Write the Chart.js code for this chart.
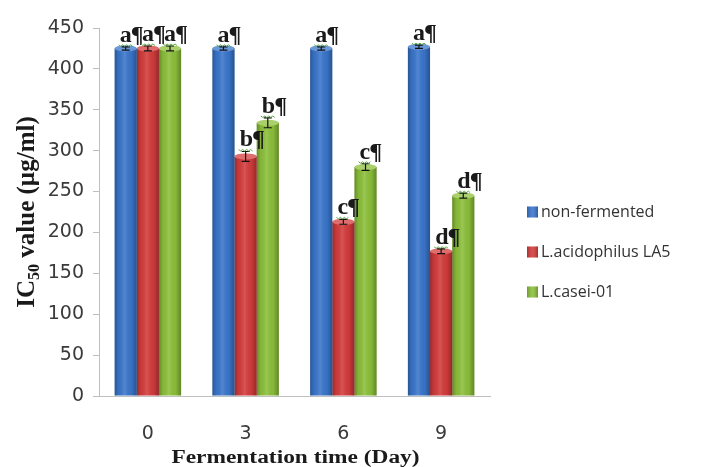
<!DOCTYPE html>
<html>
<head>
<meta charset="utf-8">
<script src="https://cdn.jsdelivr.net/npm/chart.js@4"></script>
<style>
  html, body { margin: 0; padding: 0; background: #fff; }
  #wrap { width: 706px; height: 467px; }
</style>
</head>
<body>
<div id="wrap"><canvas id="chart" width="706" height="467"></canvas></div>
<script>
const days = ["0", "3", "6", "9"];

const nonFermented = [425, 425, 425, 427];
const acidophilus  = [425, 293, 213, 177];
const casei        = [425, 334, 280, 245];

const nonFermentedErr = [2, 2, 2, 2];
const acidophilusErr  = [3, 6, 3, 3];
const caseiErr        = [3, 6, 4, 3];

const nonFermentedLetters = ["a", "a", "a", "a"];
const acidophilusLetters  = ["a", "b", "c", "d"];
const caseiLetters        = ["a", "b", "c", "d"];

const seriesNames = ["non-fermented", "L.acidophilus LA5", "L.casei-01"];
const yTicks = [0, 50, 100, 150, 200, 250, 300, 350, 400, 450];
const xTitle = "Fermentation time (Day)";

const colors = ["#3a76cc", "#d43c3c", "#8cc03a"];
const errs = [nonFermentedErr, acidophilusErr, caseiErr];
const letters = [nonFermentedLetters, acidophilusLetters, caseiLetters];

// cylinder shading + error bars + significance letters
const barDecor = {
  id: "barDecor",
  afterDatasetsDraw(chart) {
    const ctx = chart.ctx;
    const yScale = chart.scales.y;
    chart.data.datasets.forEach((ds, di) => {
      const meta = chart.getDatasetMeta(di);
      meta.data.forEach((bar, i) => {
        const w = bar.width;
        const x0 = bar.x - w / 2;
        const top = bar.y;
        const bottom = bar.base;
        ctx.save();
        const g = ctx.createLinearGradient(x0, 0, x0 + w, 0);
        g.addColorStop(0, "rgba(0,0,0,0.28)");
        g.addColorStop(0.18, "rgba(0,0,0,0.05)");
        g.addColorStop(0.45, "rgba(255,255,255,0.12)");
        g.addColorStop(0.75, "rgba(0,0,0,0.04)");
        g.addColorStop(1, "rgba(0,0,0,0.30)");
        ctx.fillStyle = g;
        ctx.fillRect(x0, top, w, bottom - top);
        ctx.beginPath();
        ctx.ellipse(bar.x, top, w / 2, 3, 0, 0, Math.PI * 2);
        ctx.fillStyle = colors[di];
        ctx.fill();
        ctx.fillStyle = "rgba(255,255,255,0.25)";
        ctx.fill();
        ctx.restore();

        // error bar
        const e = errs[di][i];
        const v = ds.data[i];
        const yHi = yScale.getPixelForValue(v + e);
        const yLo = yScale.getPixelForValue(v - e);
        ctx.save();
        ctx.strokeStyle = "#111";
        ctx.lineWidth = 1.2;
        ctx.beginPath();
        ctx.moveTo(bar.x, yHi); ctx.lineTo(bar.x, yLo);
        ctx.moveTo(bar.x - 4, yHi); ctx.lineTo(bar.x + 4, yHi);
        ctx.moveTo(bar.x - 4, yLo); ctx.lineTo(bar.x + 4, yLo);
        ctx.stroke();
        ctx.restore();

        // letter with pilcrow
        const ly = yHi - 5;
        ctx.save();
        ctx.font = "bold 24px 'Liberation Serif'";
        ctx.textBaseline = "alphabetic";
        ctx.fillStyle = "#1a1a1a";
        const lx = bar.x - 6;
        ctx.fillText(letters[di][i], lx, ly);
        const lw = ctx.measureText(letters[di][i]).width;
        ctx.fillText("\u00b6", lx + lw - 1, ly);
        ctx.strokeStyle = "#5aa845";
        ctx.lineWidth = 1;
        ctx.beginPath();
        for (let k = 0; k <= lw + 2; k += 2) {
          const yy = ly + 3 + (k % 4 === 0 ? 0 : 1.5);
          if (k === 0) ctx.moveTo(lx + k - 1, yy); else ctx.lineTo(lx + k - 1, yy);
        }
        ctx.stroke();
        ctx.restore();
      });
    });
  }
};

// axis titles (x one stretched like the source picture) and the legend
const extras = {
  id: "extras",
  afterDraw(chart) {
    const ctx = chart.ctx;
    const area = chart.chartArea;

    ctx.save();
    ctx.translate(28, (area.top + area.bottom) / 2);
    ctx.rotate(-Math.PI / 2);
    ctx.fillStyle = "#1a1a1a";
    const big = "bold 25px 'Liberation Serif'";
    const small = "bold 16px 'Liberation Serif'";
    ctx.font = big;
    const w1 = ctx.measureText("IC").width;
    ctx.font = small;
    const w2 = ctx.measureText("50").width;
    ctx.font = big;
    const w3 = ctx.measureText(" value (\u00b5g/ml)").width;
    let x = -(w1 + w2 + w3) / 2;
    ctx.textBaseline = "middle";
    ctx.fillText("IC", x, 0);
    x += w1;
    ctx.font = small;
    ctx.fillText("50", x, 7);
    x += w2;
    ctx.font = big;
    ctx.fillText(" value (\u00b5g/ml)", x, 0);
    ctx.restore();

    ctx.save();
    ctx.translate((area.left + area.right) / 2 + 1, 458);
    ctx.scale(1.3, 1);
    ctx.font = "bold 18px 'Liberation Serif'";
    ctx.textAlign = "center";
    ctx.textBaseline = "middle";
    ctx.fillStyle = "#1a1a1a";
    ctx.fillText(xTitle, 0, 0);
    ctx.restore();

    ctx.save();
    ctx.font = "16px 'Open Sans'";
    ctx.textBaseline = "middle";
    seriesNames.forEach((name, i) => {
      const y = 212 + 40 * i;
      const bx = area.right + 37;
      ctx.fillStyle = colors[i];
      ctx.fillRect(bx, y - 5.5, 11, 11);
      const g = ctx.createLinearGradient(bx, 0, bx + 11, 0);
      g.addColorStop(0, "rgba(0,0,0,0.2)");
      g.addColorStop(0.5, "rgba(255,255,255,0.1)");
      g.addColorStop(1, "rgba(0,0,0,0.25)");
      ctx.fillStyle = g;
      ctx.fillRect(bx, y - 5.5, 11, 11);
      ctx.fillStyle = "#333";
      ctx.fillText(name, bx + 14, y);
    });
    ctx.restore();
  }
};

new Chart(document.getElementById("chart"), {
  type: "bar",
  data: {
    labels: days,
    datasets: [
      { label: seriesNames[0], data: nonFermented, backgroundColor: colors[0] },
      { label: seriesNames[1], data: acidophilus, backgroundColor: colors[1] },
      { label: seriesNames[2], data: casei, backgroundColor: colors[2] }
    ]
  },
  options: {
    responsive: false,
    animation: false,
    layout: { padding: { left: 36, top: 28, right: 216, bottom: 0 } },
    datasets: { bar: { categoryPercentage: 0.68, barPercentage: 1.0, borderWidth: 0 } },
    plugins: {
      tooltip: { enabled: false },
      legend: { display: false }
    },
    scales: {
      x: {
        afterFit(axis) { axis.height = 71; },
        grid: { display: false },
        border: { color: "#bfbfbf", width: 1 },
        ticks: { color: "#3a3a3a", font: { family: "'DejaVu Sans'", size: 19 }, padding: 19 }
      },
      y: {
        min: 0,
        max: 450,
        afterFit(axis) { axis.width = 63; },
        afterBuildTicks(axis) { axis.ticks = yTicks.map(v => ({ value: v })); },
        grid: { display: true, drawOnChartArea: false, drawTicks: true, tickLength: 6, color: "#bfbfbf" },
        border: { color: "#bfbfbf", width: 1 },
        ticks: { color: "#3a3a3a", font: { family: "'DejaVu Sans'", size: 19 }, padding: 9 }
      }
    }
  },
  plugins: [barDecor, extras]
});
</script>
</body>
</html>
